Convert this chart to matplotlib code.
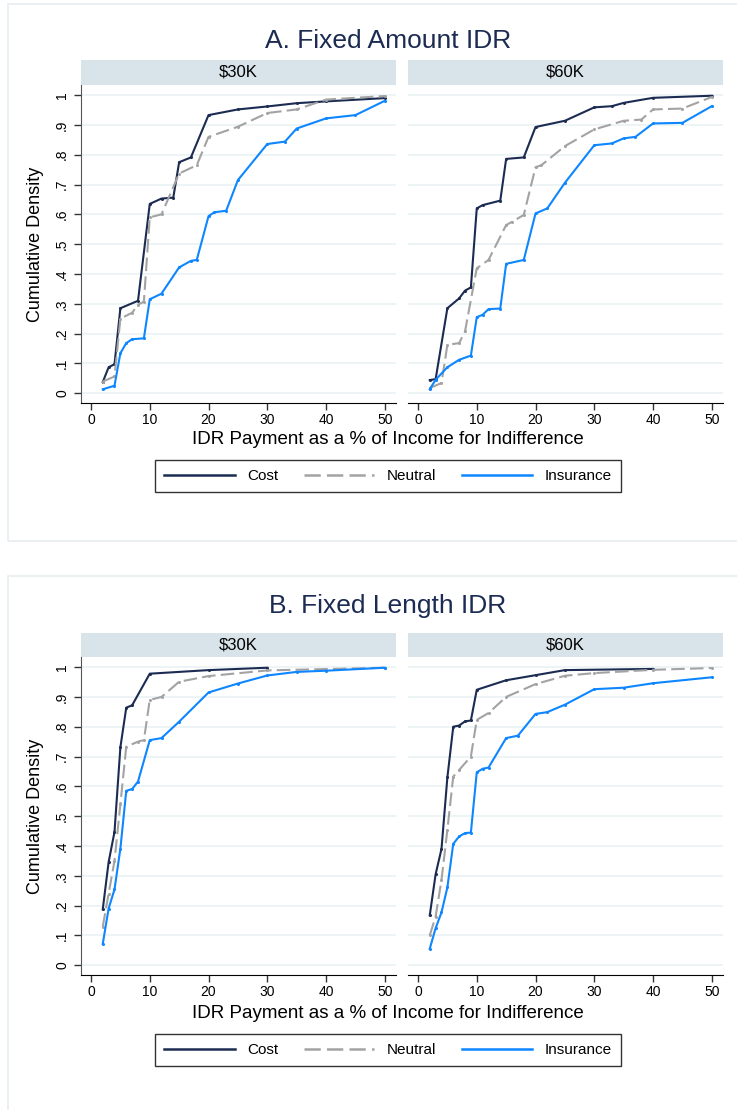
import matplotlib.pyplot as plt
from matplotlib.patches import Rectangle
from matplotlib.lines import Line2D

plt.rcParams['font.family'] = ['Liberation Sans Narrow', 'Liberation Sans', 'DejaVu Sans']

# ---- data: Panel A (fixed amount IDR) ----
a30_cost_x = [2, 3, 4, 5, 8, 10, 12, 14, 15, 17, 20, 25, 30, 35, 40, 50]
a30_cost_y = [0.037, 0.087, 0.097, 0.285, 0.31, 0.635, 0.653, 0.656, 0.775, 0.791, 0.933, 0.952, 0.962, 0.973, 0.979, 0.99]
a30_neut_x = [2, 4, 5, 7, 8, 9, 10, 12, 15, 18, 20, 25, 30, 35, 40, 50]
a30_neut_y = [0.039, 0.056, 0.25, 0.27, 0.297, 0.307, 0.59, 0.60, 0.737, 0.765, 0.86, 0.894, 0.94, 0.952, 0.985, 0.997]
a30_ins_x = [2, 4, 5, 6, 7, 9, 10, 12, 15, 17, 18, 20, 21, 23, 25, 30, 33, 35, 40, 45, 50]
a30_ins_y = [0.013, 0.025, 0.134, 0.168, 0.181, 0.184, 0.315, 0.334, 0.422, 0.444, 0.447, 0.594, 0.607, 0.612,
             0.715, 0.836, 0.844, 0.888, 0.922, 0.933, 0.981]

a60_cost_x = [2, 3, 5, 7, 8, 9, 10, 11, 14, 15, 18, 20, 25, 30, 33, 35, 40, 50]
a60_cost_y = [0.044, 0.047, 0.285, 0.318, 0.344, 0.355, 0.62, 0.631, 0.646, 0.786, 0.791, 0.893, 0.914, 0.959,
              0.963, 0.974, 0.991, 0.998]
a60_neut_x = [2, 4, 5, 7, 8, 10, 12, 15, 16, 18, 20, 21, 25, 30, 35, 38, 40, 45, 50]
a60_neut_y = [0.017, 0.034, 0.162, 0.168, 0.207, 0.419, 0.447, 0.564, 0.575, 0.598, 0.758, 0.765, 0.829, 0.885,
              0.914, 0.918, 0.952, 0.955, 0.994]
a60_ins_x = [2, 3, 5, 7, 9, 10, 11, 12, 14, 15, 18, 20, 22, 25, 30, 33, 35, 37, 40, 45, 50]
a60_ins_y = [0.013, 0.045, 0.087, 0.112, 0.126, 0.255, 0.263, 0.282, 0.284, 0.434, 0.447, 0.603, 0.62, 0.706,
             0.832, 0.838, 0.855, 0.86, 0.905, 0.907, 0.963]

# ---- data: Panel B (fixed length IDR) ----
b30_cost_x = [2, 3, 4, 5, 6, 7, 10, 20, 30]
b30_cost_y = [0.187, 0.346, 0.447, 0.731, 0.864, 0.872, 0.978, 0.99, 0.998]
b30_neut_x = [2, 3, 4, 5, 6, 8, 9, 10, 12, 15, 20, 30, 50]
b30_neut_y = [0.129, 0.24, 0.35, 0.54, 0.733, 0.75, 0.755, 0.89, 0.90, 0.951, 0.97, 0.989, 0.998]
b30_ins_x = [2, 3, 4, 5, 6, 7, 8, 10, 12, 15, 20, 25, 30, 35, 40, 50]
b30_ins_y = [0.071, 0.19, 0.254, 0.391, 0.585, 0.591, 0.616, 0.755, 0.762, 0.817, 0.915, 0.945, 0.972, 0.984,
             0.988, 0.998]

b60_cost_x = [2, 3, 4, 5, 6, 7, 8, 9, 10, 15, 20, 25, 40]
b60_cost_y = [0.167, 0.305, 0.39, 0.63, 0.80, 0.804, 0.818, 0.821, 0.924, 0.956, 0.973, 0.99, 0.994]
b60_neut_x = [2, 3, 4, 5, 6, 7, 9, 10, 12, 15, 20, 25, 30, 40, 50]
b60_neut_y = [0.10, 0.163, 0.286, 0.454, 0.633, 0.655, 0.70, 0.823, 0.846, 0.90, 0.943, 0.971, 0.98, 0.991, 0.997]
b60_ins_x = [2, 3, 4, 5, 6, 7, 8, 9, 10, 11, 12, 15, 17, 20, 22, 25, 30, 35, 40, 50]
b60_ins_y = [0.055, 0.124, 0.177, 0.261, 0.407, 0.432, 0.443, 0.445, 0.647, 0.659, 0.663, 0.762, 0.77, 0.843,
             0.849, 0.874, 0.926, 0.931, 0.946, 0.966]

series_names = ["Cost", "Neutral", "Insurance"]
panel_titles = ["A. Fixed Amount IDR", "B. Fixed Length IDR"]
strip_labels = ["$30K", "$60K"]
xticks = [0, 10, 20, 30, 40, 50]
yticks = [0, .1, .2, .3, .4, .5, .6, .7, .8, .9, 1]
ytick_labels = ["0", ".1", ".2", ".3", ".4", ".5", ".6", ".7", ".8", ".9", "1"]

panels = [
    [[(a30_cost_x, a30_cost_y), (a30_neut_x, a30_neut_y), (a30_ins_x, a30_ins_y)],
     [(a60_cost_x, a60_cost_y), (a60_neut_x, a60_neut_y), (a60_ins_x, a60_ins_y)]],
    [[(b30_cost_x, b30_cost_y), (b30_neut_x, b30_neut_y), (b30_ins_x, b30_ins_y)],
     [(b60_cost_x, b60_cost_y), (b60_neut_x, b60_neut_y), (b60_ins_x, b60_ins_y)]],
]

colors = ["#1c2b52", "#a3a3a3", "#0d86ff"]
styles = ["-", (0, (6.5, 2.5)), "-"]
title_col = "#1c2b52"
grid_col = "#eaf2f3"
strip_col = "#d9e4ea"

W, H = 737, 1110
fig = plt.figure(figsize=(W / 100, H / 100), dpi=100)
fig.patch.set_facecolor("white")

def fx(px):
    return px / W

def fy(py):
    return 1 - py / H

# panel geometry in pixel rows
geo = [
    dict(frame=(4, 541), title=41, strip=60, top=85, bot=403, xlab=440, leg=476),
    dict(frame=(576, 1115), title=606, strip=633, top=657, bot=975, xlab=1013, leg=1050),
]
ax_lefts = [81, 408]
ax_w = 315

for p, g in enumerate(geo):
    # panel frame
    fig.patches.append(Rectangle((fx(8), fy(g["frame"][1])), fx(760), (g["frame"][1] - g["frame"][0]) / H,
                                 transform=fig.transFigure, facecolor="none", edgecolor="#e6eef0", lw=1.2))
    fig.text(fx(388), fy(g["title"]), panel_titles[p], ha="center", va="center", fontsize=19, color=title_col)
    for j in range(2):
        left = ax_lefts[j]
        # strip header
        sax = fig.add_axes([fx(left), fy(g["top"]), fx(ax_w), (g["top"] - g["strip"]) / H])
        sax.set_facecolor(strip_col)
        sax.set_xticks([])
        sax.set_yticks([])
        for s in sax.spines.values():
            s.set_visible(False)
        sax.text(0.5, 0.5, strip_labels[j], ha="center", va="center", fontsize=12, transform=sax.transAxes)

        ax = fig.add_axes([fx(left), fy(g["bot"]), fx(ax_w), (g["bot"] - g["top"]) / H])
        for k, (xs, ys) in enumerate(panels[p][j]):
            ax.plot(xs, ys, color=colors[k], linestyle=styles[k], lw=1.5,
                    marker="o", ms=2.2, markeredgewidth=0)
        ax.set_xlim(-1.7, 51.9)
        ax.set_ylim(-0.033, 1.034)
        ax.set_xticks(xticks)
        ax.set_yticks(yticks)
        ax.set_yticklabels(ytick_labels if j == 0 else [], rotation=90, va="center")
        ax.grid(axis="y", color=grid_col, lw=1.2)
        ax.set_axisbelow(True)
        ax.spines["top"].set_visible(False)
        ax.spines["right"].set_visible(False)
        ax.spines["left"].set_color("#555555")
        ax.tick_params(axis="both", length=5, width=1, labelsize=10, colors="#333333", labelcolor="black")
        ax.tick_params(axis="x", pad=2)
        if j == 1:
            ax.spines["left"].set_visible(False)
            ax.tick_params(axis="y", length=0)
        else:
            ax.set_ylabel("Cumulative Density", fontsize=13, labelpad=8)

    fig.text(fx(388), fy(g["xlab"]), "IDR Payment as a % of Income for Indifference",
             ha="center", va="center", fontsize=13.5)
    handles = [Line2D([], [], color=colors[k], linestyle=styles[k], lw=1.8) for k in range(3)]
    leg = fig.legend(handles, series_names, loc="center", bbox_to_anchor=(fx(388), fy(g["leg"])),
                     ncol=3, fontsize=11, frameon=True, fancybox=False, edgecolor="black",
                     handlelength=4.6, columnspacing=1.7, handletextpad=0.8, borderpad=0.6)
    leg.get_frame().set_linewidth(1.0)

fig.savefig("out.png", dpi=100, facecolor="white")
